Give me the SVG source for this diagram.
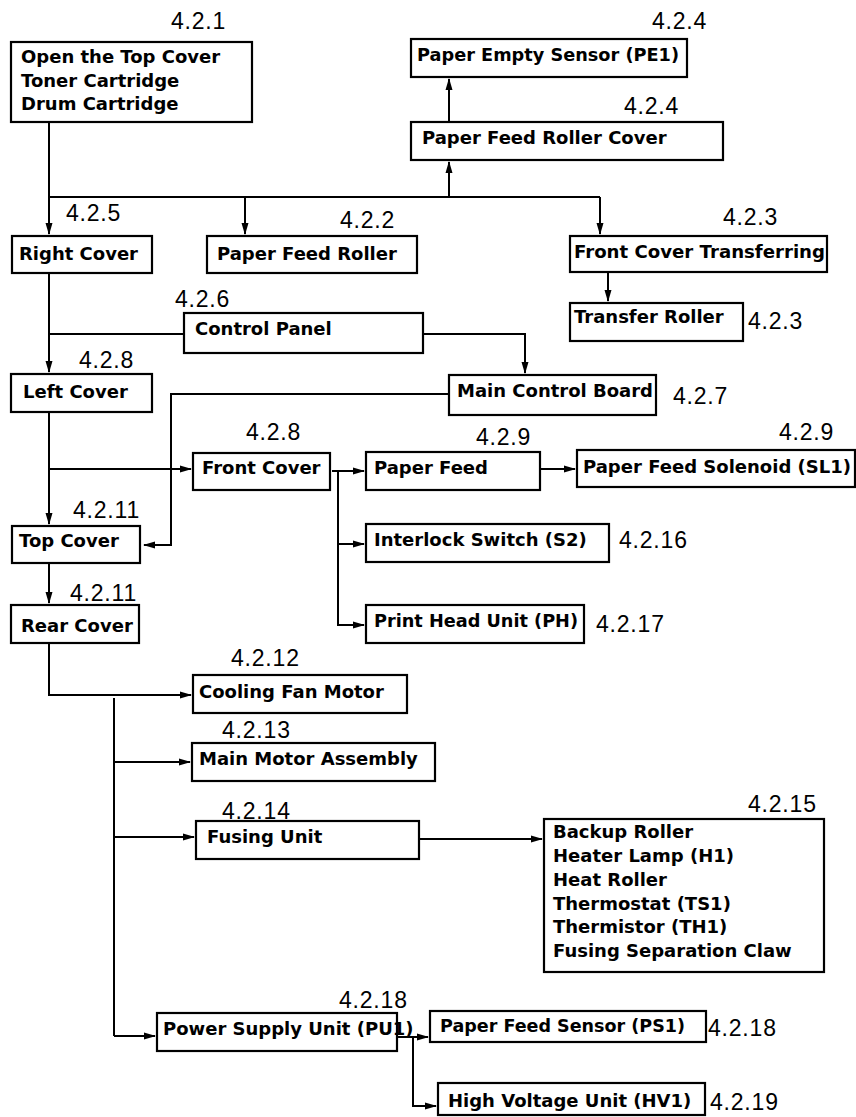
<svg xmlns="http://www.w3.org/2000/svg" width="856" height="1117" viewBox="0 0 856 1117">
<style>
rect{fill:#fff;stroke:#000;stroke-width:2.2}
.t{font-family:"DejaVu Sans",sans-serif;font-weight:bold;font-size:18px;fill:#000}
.n{font-family:"Liberation Sans",Arial,sans-serif;font-size:23px;letter-spacing:0.8px;fill:#000}
#connectors path{fill:none;stroke:#000;stroke-width:2}
.a{marker-end:url(#ah)}
</style>
<defs>
<marker id="ah" markerWidth="12" markerHeight="8" refX="11" refY="4" orient="auto" markerUnits="userSpaceOnUse"><path d="M0,0.5 L12,4 L0,7.5 z" fill="#000"/></marker>
</defs>
<rect x="0" y="0" width="856" height="1117" style="fill:#fff;stroke:none"/>
<g id="connectors">
<path d="M49,122 V197 H600"/>
<path class="a" d="M49,197 V234"/>
<path class="a" d="M245,197 V234"/>
<path class="a" d="M600,197 V234"/>
<path class="a" d="M449,197 V162"/>
<path class="a" d="M449,122 V79"/>
<path class="a" d="M608,272 V301"/>
<path class="a" d="M49,273 V372"/>
<path d="M49,334 H184"/>
<path class="a" d="M423,334 H525 V373"/>
<path class="a" d="M49,412 V524"/>
<path class="a" d="M49,469 H191"/>
<path class="a" d="M449,394 H171 V545 H144"/>
<path class="a" d="M332,471 H364"/>
<path d="M338,471 V626"/>
<path class="a" d="M338,544 H364"/>
<path class="a" d="M338,625 H364"/>
<path class="a" d="M540,469 H575"/>
<path class="a" d="M49,563 V603"/>
<path class="a" d="M49,643 V695 H191"/>
<path d="M114,698 V1036"/>
<path class="a" d="M114,762 H190"/>
<path class="a" d="M114,837 H194"/>
<path class="a" d="M114,1036 H155"/>
<path class="a" d="M419,839 H542"/>
<path class="a" d="M397,1037 H428"/>
<path class="a" d="M413,1037 V1106 H436"/>
</g>
<g id="n_open"><rect x="11" y="42" width="241" height="80"/><text class="t" x="21" y="63">Open the Top Cover</text><text class="t" x="21" y="87">Toner Cartridge</text><text class="t" x="21" y="110">Drum Cartridge</text><text class="n" x="171" y="29">4.2.1</text></g>
<g id="n_pe1"><rect x="411" y="39" width="276" height="38"/><text class="t" x="417" y="61" textLength="262" lengthAdjust="spacingAndGlyphs">Paper Empty Sensor (PE1)</text><text class="n" x="652" y="29">4.2.4</text></g>
<g id="n_pfrc"><rect x="411" y="122" width="312" height="38"/><text class="t" x="422" y="144">Paper Feed Roller Cover</text><text class="n" x="624" y="114">4.2.4</text></g>
<g id="n_right"><rect x="12" y="236" width="140" height="37"/><text class="t" x="19" y="260">Right Cover</text><text class="n" x="66" y="221">4.2.5</text></g>
<g id="n_pfr"><rect x="207" y="236" width="210" height="37"/><text class="t" x="217" y="260">Paper Feed Roller</text><text class="n" x="340" y="228">4.2.2</text></g>
<g id="n_fct"><rect x="570" y="236" width="257" height="36"/><text class="t" x="574" y="258" textLength="251" lengthAdjust="spacingAndGlyphs">Front Cover Transferring</text><text class="n" x="723" y="225">4.2.3</text></g>
<g id="n_tr"><rect x="570" y="303" width="173" height="38"/><text class="t" x="574" y="323">Transfer Roller</text><text class="n" x="748" y="329">4.2.3</text></g>
<g id="n_cp"><rect x="184" y="313" width="239" height="40"/><text class="t" x="195" y="335">Control Panel</text><text class="n" x="175" y="307">4.2.6</text></g>
<g id="n_left"><rect x="11" y="374" width="141" height="38"/><text class="t" x="23" y="398">Left Cover</text><text class="n" x="79" y="368">4.2.8</text></g>
<g id="n_mcb"><rect x="449" y="375" width="207" height="40"/><text class="t" x="457" y="397" textLength="196" lengthAdjust="spacingAndGlyphs">Main Control Board</text><text class="n" x="673" y="404">4.2.7</text></g>
<g id="n_front"><rect x="193" y="453" width="137" height="37"/><text class="t" x="202" y="474">Front Cover</text><text class="n" x="246" y="440">4.2.8</text></g>
<g id="n_pf"><rect x="366" y="452" width="174" height="38"/><text class="t" x="374" y="474">Paper Feed</text><text class="n" x="476" y="445">4.2.9</text></g>
<g id="n_sl1"><rect x="577" y="450" width="278" height="37"/><text class="t" x="583" y="473" textLength="268" lengthAdjust="spacingAndGlyphs">Paper Feed Solenoid (SL1)</text><text class="n" x="779" y="440">4.2.9</text></g>
<g id="n_top"><rect x="12" y="526" width="128" height="37"/><text class="t" x="19" y="547">Top Cover</text><text class="n" x="73" y="518">4.2.11</text></g>
<g id="n_s2"><rect x="366" y="524" width="243" height="38"/><text class="t" x="374" y="546">Interlock Switch (S2)</text><text class="n" x="619" y="548">4.2.16</text></g>
<g id="n_ph"><rect x="366" y="605" width="218" height="38"/><text class="t" x="374" y="627" textLength="204" lengthAdjust="spacingAndGlyphs">Print Head Unit (PH)</text><text class="n" x="596" y="632">4.2.17</text></g>
<g id="n_rear"><rect x="11" y="605" width="128" height="38"/><text class="t" x="21" y="632">Rear Cover</text><text class="n" x="70" y="601">4.2.11</text></g>
<g id="n_cfm"><rect x="193" y="675" width="214" height="38"/><text class="t" x="199" y="698">Cooling Fan Motor</text><text class="n" x="231" y="666">4.2.12</text></g>
<g id="n_mma"><rect x="192" y="743" width="243" height="38"/><text class="t" x="199" y="765">Main Motor Assembly</text><text class="n" x="222" y="738">4.2.13</text></g>
<g id="n_fu"><rect x="196" y="821" width="223" height="38"/><text class="t" x="207" y="843">Fusing Unit</text><text class="n" x="222" y="819">4.2.14</text></g>
<g id="n_fparts"><rect x="544" y="819" width="280" height="153"/><text class="t" x="553" y="838">Backup Roller</text><text class="t" x="553" y="862">Heater Lamp (H1)</text><text class="t" x="553" y="886">Heat Roller</text><text class="t" x="553" y="910">Thermostat (TS1)</text><text class="t" x="553" y="933">Thermistor (TH1)</text><text class="t" x="553" y="957">Fusing Separation Claw</text><text class="n" x="748" y="812">4.2.15</text></g>
<g id="n_psu"><rect x="157" y="1013" width="240" height="38"/><text class="t" x="163" y="1035">Power Supply Unit (PU1)</text><text class="n" x="339" y="1008">4.2.18</text></g>
<g id="n_ps1"><rect x="430" y="1011" width="276" height="31"/><text class="t" x="440" y="1032" textLength="245" lengthAdjust="spacingAndGlyphs">Paper Feed Sensor (PS1)</text><text class="n" x="708" y="1036">4.2.18</text></g>
<g id="n_hv1"><rect x="438" y="1083" width="267" height="32"/><text class="t" x="448" y="1107">High Voltage Unit (HV1)</text><text class="n" x="710" y="1110">4.2.19</text></g>
</svg>
